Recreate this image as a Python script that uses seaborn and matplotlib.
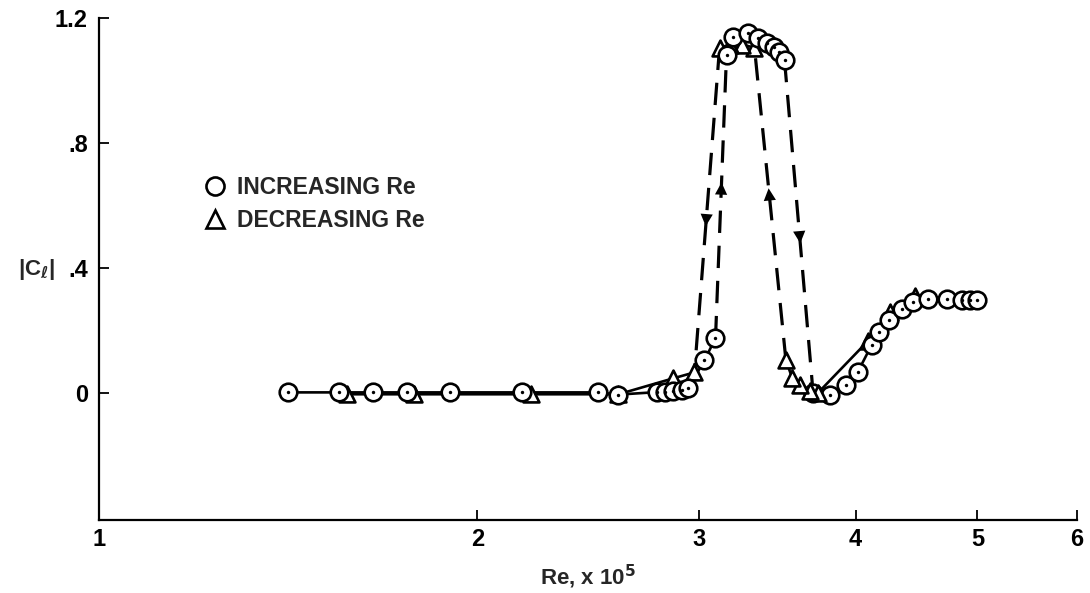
import numpy as np
import matplotlib
matplotlib.use('Agg')
import matplotlib.pyplot as plt
from matplotlib.lines import Line2D
import seaborn as sns

# Re x 1e5 and |Cl|, increasing Reynolds number sweep
inc_re = [1.414, 1.553, 1.653, 1.759, 1.903, 2.172, 2.497, 2.590, 2.782, 2.823,
          2.864, 2.910, 2.944, 3.032, 3.094,
          3.157, 3.197, 3.281, 3.347, 3.403, 3.447, 3.478, 3.511,
          3.700, 3.814, 3.927, 4.014, 4.118, 4.178, 4.248, 4.358, 4.439,
          4.563, 4.725, 4.857, 4.929, 4.992]
inc_cl = [0.003, 0.003, 0.003, 0.003, 0.003, 0.003, 0.003, -0.004, 0.004, 0.005,
          0.007, 0.010, 0.016, 0.106, 0.176,
          1.082, 1.139, 1.152, 1.136, 1.120, 1.107, 1.091, 1.066,
          0.000, -0.005, 0.026, 0.067, 0.154, 0.195, 0.234, 0.269, 0.291,
          0.300, 0.300, 0.298, 0.298, 0.298]
inc_jumps = [14, 22]   # dashed jump starts after these indices

# decreasing Reynolds number sweep
dec_re = [4.456, 4.256, 4.088, 3.730, 3.676, 3.610, 3.560, 3.520,
          3.323, 3.250, 3.180, 3.117,
          2.977, 2.864, 2.590, 2.207, 1.782, 1.575]
dec_cl = [0.310, 0.260, 0.166, 0.000, 0.006, 0.026, 0.050, 0.106,
          1.105, 1.115, 1.115, 1.105,
          0.067, 0.048, -0.003, -0.003, -0.003, -0.003]
dec_jumps = [7, 11]

x_ticks = [1, 2, 3, 4, 5, 6]
y_ticks = [0, 0.4, 0.8, 1.2]
y_tick_labels = ['0', '.4', '.8', '1.2']

sns.set_style('ticks')
plt.rcParams['font.family'] = ['Liberation Sans', 'DejaVu Sans']
plt.rcParams['font.weight'] = 'bold'
plt.rcParams['mathtext.fontset'] = 'dejavusans'

fig = plt.figure(figsize=(10.9, 5.93), dpi=100)
ax = fig.add_axes([99/1090, 1 - 520/593, 978/1090, 502/593])

LW = 1.9


def draw_series(re, cl, jumps):
    re = np.asarray(re)
    cl = np.asarray(cl)
    cuts = [-1] + jumps + [len(re) - 1]
    # solid runs
    for a, b in zip(cuts[:-1], cuts[1:]):
        sl = slice(a + 1, b + 1)
        if b - a > 1:
            sns.lineplot(x=re[sl], y=cl[sl], sort=False, estimator=None,
                         color='k', lw=LW, ax=ax)
    # dashed jumps with an arrowhead halfway
    for j in jumps:
        x0, x1 = re[j], re[j + 1]
        y0, y1 = cl[j], cl[j + 1]
        sns.lineplot(x=[x0, x1], y=[y0, y1], sort=False, estimator=None,
                     color='k', lw=2.3, ax=ax, dashes=False,
                     linestyle=(0, (7, 4)))
        t0, t1 = 0.45, 0.55
        lx0, lx1 = np.log(x0), np.log(x1)
        xa = np.exp(lx0 + t0 * (lx1 - lx0))
        xb = np.exp(lx0 + t1 * (lx1 - lx0))
        ya = y0 + t0 * (y1 - y0)
        yb = y0 + t1 * (y1 - y0)
        ax.annotate('', xy=(xb, yb), xytext=(xa, ya),
                    arrowprops=dict(arrowstyle='-|>', color='k', lw=0,
                                    mutation_scale=22, shrinkA=0, shrinkB=0))


draw_series(dec_re, dec_cl, dec_jumps)
draw_series(inc_re, inc_cl, inc_jumps)

# markers: dotted circles first, triangles drawn over them
sns.scatterplot(x=inc_re, y=inc_cl, marker='o', s=160, facecolor='white',
                edgecolor='k', linewidth=1.9, ax=ax, zorder=3)
sns.scatterplot(x=inc_re, y=inc_cl, marker='o', s=6, color='k',
                linewidth=0, ax=ax, zorder=3.5)
sns.scatterplot(x=dec_re[3:8], y=dec_cl[3:8], marker='^', s=130, facecolor='white',
                edgecolor='k', linewidth=1.9, ax=ax, zorder=4)
sns.scatterplot(x=dec_re[:3] + dec_re[8:], y=dec_cl[:3] + dec_cl[8:], marker='^',
                s=130, facecolor='white', edgecolor='k', linewidth=1.9, ax=ax,
                zorder=2.5)

ax.set_xscale('log')
ax.set_xlim(1, 6)
ax.set_ylim(-0.405, 1.2)
ax.set_xticks(x_ticks)
ax.set_xticklabels([str(t) for t in x_ticks])
ax.xaxis.set_minor_locator(matplotlib.ticker.NullLocator())
ax.set_yticks(y_ticks)
ax.set_yticklabels(y_tick_labels)
ax.tick_params(direction='in', length=7, width=1.3, labelsize=17, colors='k')
ax.tick_params(axis='y', pad=8)
ax.tick_params(axis='x', pad=6)
for s in ['top', 'right']:
    ax.spines[s].set_visible(False)
for s in ['left', 'bottom']:
    ax.spines[s].set_linewidth(1.6)
    ax.spines[s].set_color('k')

ax.set_xlabel(r'Re, x 10$^{\mathbf{5}}$', fontsize=16, fontweight='bold')
ax.xaxis.set_label_coords(0.5, -0.085)
ax.set_ylabel(r'|C$_\ell$|', fontsize=16, fontweight='bold', rotation=0,
              ha='center', va='center')
ax.yaxis.set_label_coords(-0.064, 0.5)

handles = [Line2D([], [], marker='o', ls='none', ms=13, mfc='white', mec='k', mew=1.9),
           Line2D([], [], marker='^', ls='none', ms=13, mfc='white', mec='k', mew=1.9)]
ax.legend(handles, ['INCREASING Re', 'DECREASING Re'], loc='upper left',
          bbox_to_anchor=(0.083, 0.727), frameon=False, fontsize=16.5,
          handletextpad=0.4, labelspacing=0.45, handlelength=1.2)

fig.savefig('out.png', dpi=100)
